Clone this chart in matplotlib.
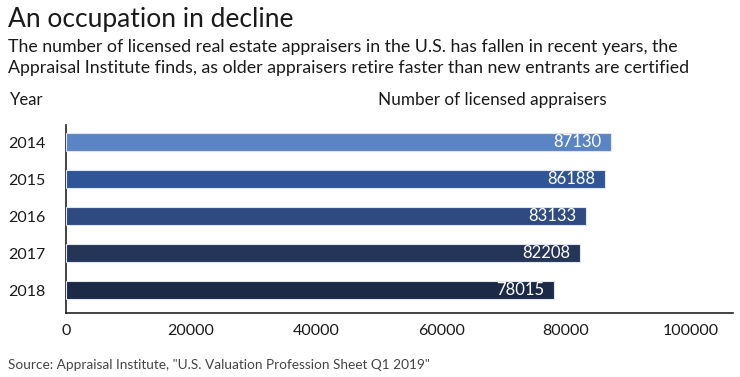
"""
Licensed real estate appraisers in the U.S., 2014-2018
"""
import matplotlib
matplotlib.use("Agg")
import matplotlib.pyplot as plt

#########################################################
# Data
#########################################################
years = ["2014", "2015", "2016", "2017", "2018"]
appraisers = [87130, 86188, 83133, 82208, 78015]
bar_colors = ["#5b84c4", "#2f5597", "#2e4a80", "#253558", "#1c2a47"]
x_ticks = [0, 20000, 40000, 60000, 80000, 100000]

#########################################################
# Fonts / style
#########################################################
plt.rcParams.update({
    "font.family": ["Lato", "DejaVu Sans"],
    "axes.spines.top": False,
    "axes.spines.right": False,
})
TEXT = "#1a1a1a"

#########################################################
# Figure
#########################################################
fig = plt.figure(figsize=(7.4, 3.77), dpi=100)
ax = fig.add_axes([66 / 740, 1 - 313 / 377, (733 - 66) / 740, (313 - 125) / 377])

pos = list(range(len(years)))
ax.barh(pos, appraisers, height=0.5, color=bar_colors,
        edgecolor="#dfe6f2", linewidth=0.8, zorder=3)

# values inside the bar ends
for p, v in zip(pos, appraisers):
    ax.text(v - 1500, p, f"{v}", ha="right", va="center",
            fontsize=12, color="white", zorder=4)

ax.set_yticks(pos)
ax.set_yticklabels(years)
ax.set_ylim(4.62, -0.46)
ax.set_xlim(0, 106700)
ax.set_xticks(x_ticks)
ax.set_xticklabels([str(t) for t in x_ticks])
ax.tick_params(axis="both", length=0, labelsize=11.5, colors=TEXT)
ax.tick_params(axis="y", pad=15)
ax.tick_params(axis="x", pad=8)
for s in ["left", "bottom"]:
    ax.spines[s].set_color("#222222")
    ax.spines[s].set_linewidth(1.2)

# titles
fig.text(8 / 740, 1 - 19 / 377, "An occupation in decline", fontsize=19,
         color=TEXT, va="center", ha="left")
fig.text(8 / 740, 1 - 47 / 377,
         "The number of licensed real estate appraisers in the U.S. has fallen in recent years, the",
         fontsize=12.8, color=TEXT, va="center", ha="left")
fig.text(8 / 740, 1 - 68 / 377,
         "Appraisal Institute finds, as older appraisers retire faster than new entrants are certified",
         fontsize=12.8, color=TEXT, va="center", ha="left")
fig.text(10 / 740, 1 - 100 / 377, "Year", fontsize=12, color=TEXT,
         va="center", ha="left")
fig.text(492 / 740, 1 - 100 / 377, "Number of licensed appraisers",
         fontsize=12.3, color=TEXT, va="center", ha="center")
fig.text(8 / 740, 1 - 365 / 377,
         "Source: Appraisal Institute, \"U.S. Valuation Profession Sheet Q1 2019\"",
         fontsize=9.8, color="#444444", va="center", ha="left")

fig.savefig("out.png", dpi=100, facecolor="white")
